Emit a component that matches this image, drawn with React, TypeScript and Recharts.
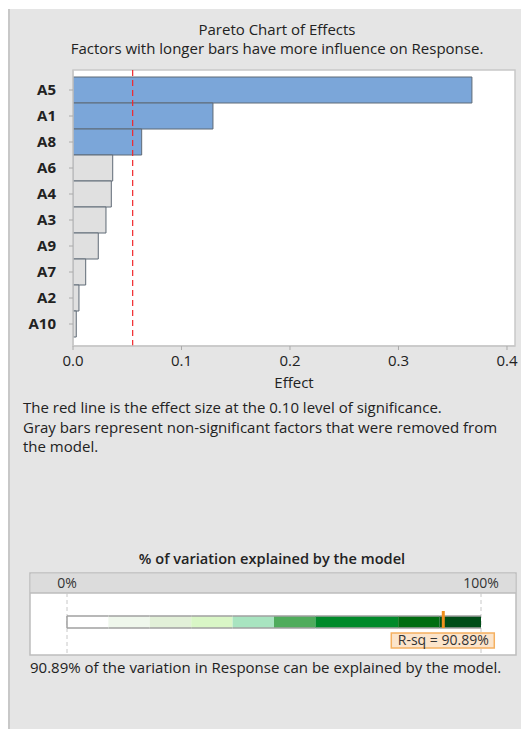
import React from 'react';
import {
  BarChart, Bar, XAxis, YAxis, Cell, ReferenceLine, CartesianGrid,
} from 'recharts';

// Pareto effects, largest first
const factors = ['A5', 'A1', 'A8', 'A6', 'A4', 'A3', 'A9', 'A7', 'A2', 'A10'];
const effects = [0.3677, 0.129, 0.0633, 0.0366, 0.0353, 0.0304, 0.0233, 0.0117, 0.0055, 0.003];
const significant = [true, true, true, false, false, false, false, false, false, false];
const effectTicks = [0, 0.1, 0.2, 0.3, 0.4];
const criticalEffect = 0.055;

// R-sq gauge
const bandWidths = [10, 10, 10, 10, 10, 10, 20, 10, 10];
const bandColors = ['#ffffff', '#eff7ec', '#e2f0d8', '#d9f6c6', '#a8e4c0', '#4fac5c', '#008a2a', '#006d10', '#004d18'];
const pctTicks = [0, 100];
const rsq = 90.89;

const FONT = '"Open Sans", sans-serif';

const paretoData = factors.map((name, i) => ({ name, effect: effects[i], sig: significant[i] }));

const gaugeRow: Record<string, number | string> = { name: 'R-sq' };
bandWidths.forEach((w, i) => { gaugeRow[`b${i}`] = w; });

// segment with only top/bottom outline so the bar reads as one strip
function Segment(props: any) {
  const { x, y, width, height, fill } = props;
  const i = props.segIndex;
  return (
    <g>
      <rect x={x} y={y} width={width} height={height} fill={fill} />
      <line x1={x} x2={x + width} y1={y} y2={y} stroke="#a0a0a0" strokeWidth={1.5} />
      <line x1={x} x2={x + width} y1={y + height} y2={y + height} stroke="#a0a0a0" strokeWidth={1.5} />
      {i === 0 && <line x1={x} x2={x} y1={y} y2={y + height} stroke="#a0a0a0" strokeWidth={1.5} />}
    </g>
  );
}

function RsqMarker(props: any) {
  const { x1, y1, y2 } = props;
  const top = Math.min(y1, y2);
  return (
    <g>
      <line x1={x1} x2={x1} y1={top + 18} y2={top + 35} stroke="#f0901e" strokeWidth={3} />
      <rect x={x1 - 52} y={top + 40} width={103} height={15} fill="#fbe4cb" stroke="#f5b060" strokeWidth={1.5} />
      <text x={x1} y={top + 52} textAnchor="middle" fontSize={14} fill="#333">
        R-sq = {rsq.toFixed(2)}%
      </text>
    </g>
  );
}

export default function App() {
  return (
    <div
      style={{
        position: 'absolute', left: 8, top: 9, width: 511, height: 720,
        background: '#e5e5e5', borderLeft: '2px solid #c8c8c8',
        fontFamily: FONT, color: '#222', overflow: 'hidden',
      }}
    >
      <svg width={511} height={720} style={{ position: 'absolute', left: -2, top: 0, overflow: 'visible' }}>
        <g fontFamily={FONT} fill="#222">
          <text x={269} y={26} textAnchor="middle" fontSize={15}>Pareto Chart of Effects</text>
          <text x={269} y={45} textAnchor="middle" fontSize={15}>Factors with longer bars have more influence on Response.</text>
          <rect x={65} y={61} width={442} height={276} fill="#fff" stroke="#c8c8c8" strokeWidth={1.5} />
          <text x={15} y={404} fontSize={15}>The red line is the effect size at the 0.10 level of significance.</text>
          <text x={15} y={424} fontSize={15}>Gray bars represent non-significant factors that were removed from</text>
          <text x={15} y={443} fontSize={15}>the model.</text>

          <text x={264} y={555} textAnchor="middle" fontSize={14.6} fontWeight={600}>% of variation explained by the model</text>
          <rect x={22} y={564} width={486} height={82} fill="#fff" stroke="#bdbdbd" strokeWidth={1.5} />
          <rect x={22.75} y={564.75} width={484.5} height={19.25} fill="#dcdcdc" />
          <line x1={22} x2={508} y1={584} y2={584} stroke="#bdbdbd" strokeWidth={1.5} />
          <text x={22} y={664} fontSize={15}>{rsq.toFixed(2)}% of the variation in Response can be explained by the model.</text>
        </g>
      </svg>

      <div style={{ position: 'absolute', left: -2, top: 0 }}>
        <BarChart
          width={512}
          height={400}
          layout="vertical"
          data={paretoData}
          barCategoryGap={0}
          margin={{ top: 61, right: 5, left: 0, bottom: 18 }}
        >
          <XAxis
            type="number"
            domain={[0, 0.4074]}
            ticks={effectTicks}
            allowDataOverflow
            tickFormatter={(v: number) => v.toFixed(1)}
            tick={{ fill: '#222', fontSize: 15 }}
            tickSize={4}
            tickMargin={5}
            axisLine={{ stroke: '#c8c8c8', strokeWidth: 1.5 }}
            tickLine={{ stroke: '#aaa' }}
            height={45}
            label={{ value: 'Effect', position: 'insideBottom', offset: 3, fill: '#222', fontSize: 15 }}
          />
          <YAxis
            type="category"
            dataKey="name"
            width={65}
            padding={{ top: 7, bottom: 9 }}
            tick={{ fill: '#222', fontSize: 15, fontWeight: 'bold' }}
            tickSize={4}
            tickMargin={13}
            axisLine={{ stroke: '#c8c8c8', strokeWidth: 1.5 }}
            tickLine={{ stroke: '#aaa' }}
            interval={0}
          />
          <Bar dataKey="effect" stroke="#5f6a76" strokeWidth={1} isAnimationActive={false}>
            {paretoData.map((d) => (
              <Cell key={d.name} fill={d.sig ? '#7ba6d9' : '#e0e0e0'} />
            ))}
          </Bar>
          <ReferenceLine x={criticalEffect} stroke="#f0262a" strokeWidth={1.2} strokeDasharray="6 4" />
        </BarChart>
      </div>

      <div style={{ position: 'absolute', left: 20, top: 564 }}>
        <BarChart
          width={486}
          height={82}
          layout="vertical"
          data={[gaugeRow]}
          margin={{ top: 0, right: 35, left: 37, bottom: 0 }}
          barSize={12}
        >
          <CartesianGrid horizontal={false} stroke="#c8c8c8" strokeDasharray="4 3" />
          <XAxis
            type="number"
            orientation="top"
            domain={[0, 100]}
            ticks={pctTicks}
            tickFormatter={(v: number) => `${v}%`}
            tick={{ fill: '#333', fontSize: 14 }}
            tickSize={0}
            tickMargin={5}
            tickLine={false}
            axisLine={false}
            height={20}
          />
          <YAxis type="category" dataKey="name" hide padding={{ top: 0, bottom: 4 }} />
          {bandWidths.map((_, i) => (
            <Bar
              key={i}
              dataKey={`b${i}`}
              stackId="g"
              fill={bandColors[i]}
              isAnimationActive={false}
              shape={(p: any) => <Segment {...p} segIndex={i} />}
            />
          ))}
          <ReferenceLine x={rsq} shape={(p: any) => <RsqMarker {...p} />} />
        </BarChart>
      </div>
    </div>
  );
}
